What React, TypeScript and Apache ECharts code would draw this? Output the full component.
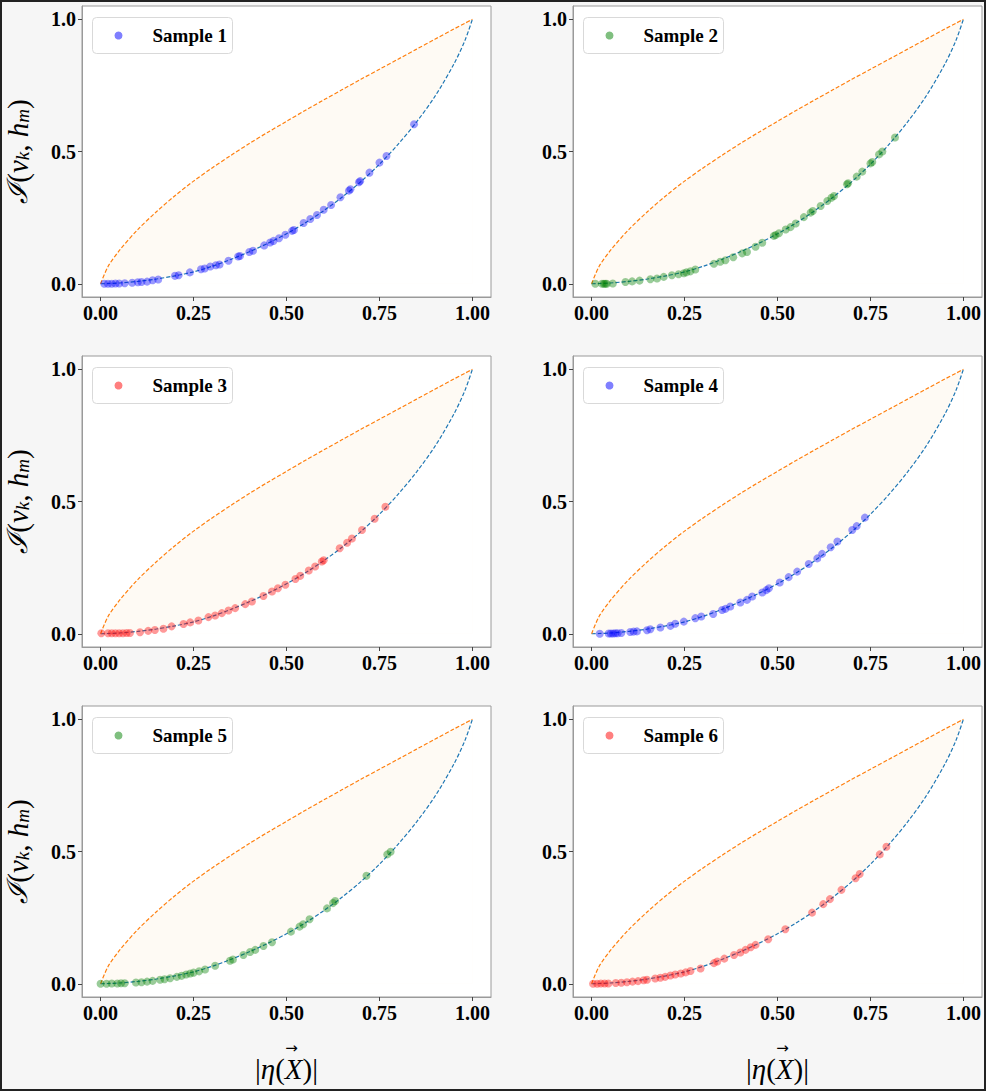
import { useEffect, useRef } from 'react';
import * as echarts from 'echarts';

// curve bounds, read at these x positions
const curveX = [0, 0.02, 0.05, 0.1, 0.15, 0.2, 0.25, 0.3, 0.35, 0.4, 0.45, 0.5, 0.55, 0.6, 0.65, 0.7, 0.75, 0.8, 0.85, 0.9, 0.95, 0.98, 1.0];
const upperCurve = [0, 0.065, 0.125, 0.205, 0.272, 0.333, 0.388, 0.438, 0.485, 0.53, 0.573, 0.614, 0.655, 0.695, 0.734, 0.773, 0.811, 0.849, 0.887, 0.925, 0.963, 0.985, 1.0];
const lowerCurve = [0, 0.001, 0.003, 0.009, 0.018, 0.03, 0.045, 0.066, 0.092, 0.121, 0.153, 0.189, 0.23, 0.276, 0.328, 0.386, 0.452, 0.527, 0.612, 0.71, 0.83, 0.92, 1.0];

const xTicks = [0, 0.25, 0.5, 0.75, 1];
const yTicks = [0, 0.5, 1];

const sample1 = [[0.01, 0.0], [0.02, 0.0], [0.03, 0.0], [0.04, 0.001], [0.05, 0.001], [0.065, 0.002], [0.085, 0.004], [0.1, 0.006], [0.11, 0.007], [0.125, 0.008], [0.14, 0.013], [0.155, 0.016], [0.2, 0.03], [0.21, 0.032], [0.24, 0.043], [0.27, 0.055], [0.28, 0.058], [0.295, 0.065], [0.31, 0.07], [0.32, 0.073], [0.344, 0.087], [0.37, 0.103], [0.375, 0.105], [0.4, 0.12], [0.41, 0.125], [0.44, 0.145], [0.456, 0.156], [0.465, 0.162], [0.48, 0.172], [0.497, 0.185], [0.515, 0.2], [0.52, 0.203], [0.546, 0.23], [0.564, 0.245], [0.582, 0.26], [0.6, 0.28], [0.62, 0.298], [0.645, 0.327], [0.668, 0.352], [0.672, 0.357], [0.695, 0.384], [0.698, 0.388], [0.723, 0.42], [0.75, 0.458], [0.769, 0.483], [0.843, 0.603]];
const sample2 = [[0.01, 0.0], [0.028, 0.0], [0.033, 0.0], [0.037, 0.0], [0.041, 0.0], [0.057, 0.001], [0.091, 0.007], [0.109, 0.009], [0.129, 0.012], [0.158, 0.017], [0.176, 0.02], [0.194, 0.026], [0.216, 0.032], [0.234, 0.036], [0.248, 0.04], [0.255, 0.043], [0.266, 0.047], [0.279, 0.054], [0.329, 0.076], [0.346, 0.083], [0.36, 0.089], [0.381, 0.1], [0.405, 0.115], [0.418, 0.12], [0.441, 0.14], [0.459, 0.155], [0.49, 0.181], [0.495, 0.184], [0.504, 0.191], [0.522, 0.205], [0.535, 0.214], [0.549, 0.228], [0.571, 0.252], [0.589, 0.269], [0.595, 0.275], [0.616, 0.294], [0.634, 0.313], [0.645, 0.325], [0.652, 0.332], [0.687, 0.376], [0.69, 0.38], [0.713, 0.405], [0.728, 0.424], [0.75, 0.455], [0.755, 0.46], [0.773, 0.489], [0.782, 0.5], [0.816, 0.553]];
const sample3 = [[0.002, 0.002], [0.02, 0.002], [0.03, 0.002], [0.04, 0.002], [0.05, 0.002], [0.06, 0.002], [0.07, 0.003], [0.079, 0.003], [0.106, 0.006], [0.128, 0.011], [0.146, 0.014], [0.169, 0.019], [0.191, 0.028], [0.223, 0.037], [0.241, 0.043], [0.263, 0.05], [0.29, 0.063], [0.308, 0.069], [0.326, 0.078], [0.344, 0.088], [0.362, 0.097], [0.389, 0.112], [0.407, 0.122], [0.438, 0.143], [0.461, 0.16], [0.477, 0.172], [0.497, 0.185], [0.524, 0.207], [0.537, 0.219], [0.56, 0.239], [0.577, 0.254], [0.595, 0.273], [0.6, 0.278], [0.643, 0.323], [0.663, 0.344], [0.676, 0.36], [0.703, 0.392], [0.737, 0.435], [0.766, 0.48]];
const sample4 = [[0.022, 0.0], [0.046, 0.001], [0.052, 0.001], [0.058, 0.001], [0.064, 0.002], [0.07, 0.002], [0.08, 0.003], [0.104, 0.007], [0.113, 0.008], [0.122, 0.009], [0.149, 0.013], [0.158, 0.017], [0.185, 0.024], [0.212, 0.03], [0.225, 0.038], [0.248, 0.046], [0.279, 0.059], [0.295, 0.065], [0.327, 0.075], [0.351, 0.09], [0.36, 0.094], [0.373, 0.103], [0.4, 0.118], [0.418, 0.128], [0.432, 0.141], [0.459, 0.156], [0.47, 0.165], [0.477, 0.172], [0.506, 0.194], [0.53, 0.214], [0.553, 0.235], [0.584, 0.264], [0.607, 0.285], [0.62, 0.302], [0.643, 0.327], [0.661, 0.349], [0.701, 0.392], [0.713, 0.407], [0.735, 0.439]];
const sample5 = [[0.0, 0.0], [0.016, 0.0], [0.03, 0.001], [0.045, 0.001], [0.055, 0.002], [0.065, 0.002], [0.095, 0.005], [0.11, 0.006], [0.125, 0.008], [0.14, 0.011], [0.16, 0.015], [0.172, 0.017], [0.187, 0.021], [0.205, 0.026], [0.218, 0.03], [0.23, 0.035], [0.241, 0.039], [0.25, 0.042], [0.265, 0.047], [0.281, 0.054], [0.308, 0.068], [0.348, 0.087], [0.356, 0.092], [0.384, 0.109], [0.402, 0.12], [0.416, 0.128], [0.438, 0.143], [0.461, 0.157], [0.512, 0.197], [0.535, 0.216], [0.545, 0.225], [0.562, 0.244], [0.609, 0.285], [0.625, 0.305], [0.631, 0.313], [0.715, 0.408], [0.771, 0.489], [0.78, 0.499]];
const sample6 = [[0.004, 0.0], [0.015, 0.0], [0.025, 0.001], [0.035, 0.001], [0.045, 0.001], [0.065, 0.003], [0.08, 0.004], [0.095, 0.006], [0.11, 0.008], [0.125, 0.01], [0.14, 0.013], [0.149, 0.015], [0.171, 0.02], [0.185, 0.023], [0.198, 0.026], [0.212, 0.031], [0.225, 0.035], [0.24, 0.039], [0.253, 0.043], [0.266, 0.048], [0.293, 0.058], [0.329, 0.078], [0.338, 0.084], [0.357, 0.095], [0.383, 0.109], [0.4, 0.118], [0.414, 0.128], [0.428, 0.138], [0.441, 0.147], [0.475, 0.168], [0.521, 0.206], [0.593, 0.269], [0.623, 0.301], [0.641, 0.32], [0.672, 0.355], [0.71, 0.399], [0.721, 0.415], [0.775, 0.489], [0.793, 0.518]];

const sampleNames = ['Sample 1', 'Sample 2', 'Sample 3', 'Sample 4', 'Sample 5', 'Sample 6'];
const samples = [sample1, sample2, sample3, sample4, sample5, sample6];
const sampleColors = ['rgba(0,0,255,0.5)', 'rgba(0,128,0,0.5)', 'rgba(255,0,0,0.5)', 'rgba(0,0,255,0.5)', 'rgba(0,128,0,0.5)', 'rgba(255,0,0,0.5)'];

const colLeft = [82, 573];
const rowTop = [6, 356, 706];
const PW = 409;
const PH = 291;

const serif = 'Liberation Serif';

export default function App() {
  const chartRef = useRef<HTMLDivElement>(null);

  useEffect(() => {
    if (!chartRef.current) return;
    const chart = echarts.init(chartRef.current, null, { renderer: 'svg' });

    const grid: any[] = [];
    const xAxis: any[] = [];
    const yAxis: any[] = [];
    const series: any[] = [];
    const graphic: any[] = [{
      type: 'rect', shape: { x: 1, y: 1, width: 984, height: 1089 },
      style: { fill: 'none', stroke: '#222', lineWidth: 2 }, silent: true, z: 100,
    }];

    samples.forEach((pts, i) => {
      const col = i % 2;
      const row = Math.floor(i / 2);
      const left = colLeft[col];
      const top = rowTop[row];

      grid.push({
        left, top, width: PW, height: PH,
        show: true, backgroundColor: '#fff', borderColor: '#9a9a9a', borderWidth: 1,
      });

      xAxis.push({
        gridIndex: i, type: 'value', min: -0.05, max: 1.05,
        splitLine: { show: false },
        axisLine: { show: true, onZero: false, lineStyle: { color: '#9a9a9a' } },
        axisTick: { show: true, customValues: xTicks, length: 4, lineStyle: { color: '#444' } },
        axisLabel: {
          customValues: xTicks, formatter: (v: number) => v.toFixed(2), margin: 6,
          fontFamily: serif, fontWeight: 'bold', fontSize: 20, color: '#000',
        },
        // arrow line sits over the X
        name: row === 2 ? '{a|→}\n{p||}{i|η}{p|(}{i|X}{p|)|}' : '',
        nameLocation: 'middle', nameGap: 45,
        nameTextStyle: {
          rich: {
            a: { fontFamily: 'DejaVu Sans', fontSize: 15, lineHeight: 12, color: '#000', padding: [0, 0, 0, 10] },
            p: { fontFamily: serif, fontSize: 29, color: '#000' },
            i: { fontFamily: serif, fontStyle: 'italic', fontSize: 29, color: '#000' },
          },
        },
      });

      yAxis.push({
        gridIndex: i, type: 'value', min: -0.05, max: 1.05,
        splitLine: { show: false },
        axisLine: { show: true, onZero: false, lineStyle: { color: '#9a9a9a' } },
        axisTick: { show: true, customValues: yTicks, length: 4, lineStyle: { color: '#444' } },
        axisLabel: {
          customValues: yTicks, formatter: (v: number) => v.toFixed(1), margin: 6,
          fontFamily: serif, fontWeight: 'bold', fontSize: 20, color: '#000',
        },
        name: col === 0 ? '{c|ℐ}{p|(}{i|v}{s|k}{p|, }{i|h}{s|m}{p|)}' : '',
        nameLocation: 'middle', nameGap: 50, nameRotate: 90,
        nameTextStyle: {
          rich: {
            c: { fontFamily: 'DejaVu Serif', fontStyle: 'italic', fontSize: 28, color: '#000' },
            p: { fontFamily: serif, fontSize: 29, color: '#000' },
            i: { fontFamily: serif, fontStyle: 'italic', fontSize: 29, color: '#000' },
            s: { fontFamily: serif, fontStyle: 'italic', fontSize: 19, color: '#000', verticalAlign: 'bottom' },
          },
        },
      });

      // legend box
      graphic.push({
        type: 'group', left: left + 10, top: top + 11, silent: true, z: 50,
        children: [
          {
            type: 'rect', shape: { x: 0, y: 0, width: 140, height: 36, r: 4 },
            style: { fill: '#fff', stroke: '#d9d9d9', lineWidth: 1 },
          },
          {
            type: 'circle', shape: { cx: 26, cy: 18, r: 4 },
            style: { fill: sampleColors[i] },
          },
          {
            type: 'text', x: 60, y: 18,
            style: {
              text: sampleNames[i], fontFamily: serif, fontWeight: 'bold', fontSize: 19,
              fill: '#000', verticalAlign: 'middle', align: 'left',
            },
          },
        ],
      });

      // shaded region: upper filled down to 0, then the part under the lower bound painted white
      series.push({
        name: 'upperFill' + i, type: 'line', xAxisIndex: i, yAxisIndex: i,
        smooth: 0.3, showSymbol: false, symbol: 'none',
        lineStyle: { width: 0, opacity: 0 },
        areaStyle: { color: 'rgba(245,222,179,0.15)', opacity: 1 },
        data: curveX.map((x, k) => [x, upperCurve[k]]),
        z: 1, silent: true,
      });
      series.push({
        name: 'lowerFill' + i, type: 'line', xAxisIndex: i, yAxisIndex: i,
        smooth: 0.3, showSymbol: false, symbol: 'none',
        lineStyle: { width: 0, opacity: 0 },
        areaStyle: { color: '#fff', opacity: 1 },
        data: curveX.map((x, k) => [x, lowerCurve[k]]),
        z: 2, silent: true,
      });
      series.push({
        name: 'lower' + i, type: 'line', xAxisIndex: i, yAxisIndex: i,
        smooth: 0.3, showSymbol: false, symbol: 'none',
        lineStyle: { color: '#1f77b4', width: 1.2, type: [4, 2] },
        data: curveX.map((x, k) => [x, lowerCurve[k]]),
        z: 3, silent: true,
      });
      series.push({
        name: 'upper' + i, type: 'line', xAxisIndex: i, yAxisIndex: i,
        smooth: 0.3, showSymbol: false, symbol: 'none',
        lineStyle: { color: '#ff7f0e', width: 1.2, type: [4, 2] },
        data: curveX.map((x, k) => [x, upperCurve[k]]),
        z: 3, silent: true,
      });
      series.push({
        name: sampleNames[i], type: 'scatter', xAxisIndex: i, yAxisIndex: i,
        symbol: 'circle', symbolSize: 8,
        itemStyle: { color: sampleColors[i] },
        data: pts, z: 4,
      });
    });

    chart.setOption({
      animation: false,
      backgroundColor: '#f6f6f6',
      grid, xAxis, yAxis, series, graphic,
    });

    return () => {
      chart.dispose();
    };
  }, []);

  return (
    <div ref={chartRef} style={{ position: 'absolute', left: 0, top: 0, width: 986, height: 1091 }} />
  );
}
